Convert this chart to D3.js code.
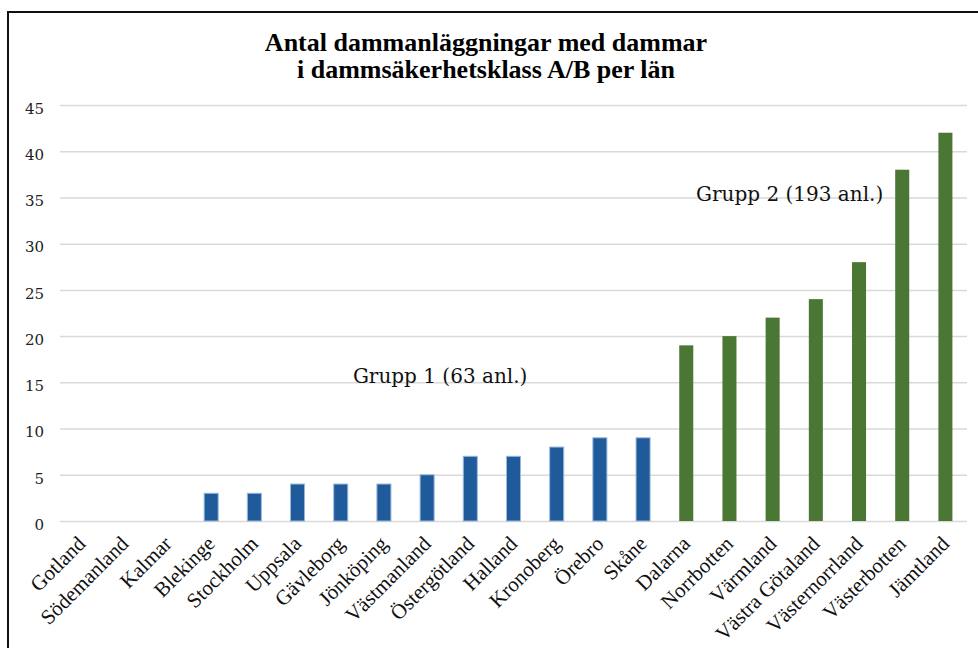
<!DOCTYPE html>
<html>
<head>
<meta charset="utf-8">
<script src="https://cdn.jsdelivr.net/npm/d3@7"></script>
<style>
  body { margin: 0; background: #fff; }
  svg { display: block; }
  .title { font-family: "Liberation Serif", serif; font-weight: bold; font-size: 26px; fill: #000; }
  .tick-label { font-family: "DejaVu Serif", serif; font-size: 15px; fill: #222; }
  .cat-label { font-family: "Liberation Serif", serif; font-size: 21px; fill: #111; }
  .group-note { font-family: "DejaVu Serif", serif; font-size: 20px; fill: #111; }
</style>
</head>
<body>
<svg id="chart" width="978" height="648"></svg>
<script>
// data
var lan = ["Gotland", "Södemanland", "Kalmar", "Blekinge", "Stockholm", "Uppsala",
  "Gävleborg", "Jönköping", "Västmanland", "Östergötland", "Halland", "Kronoberg",
  "Örebro", "Skåne", "Dalarna", "Norrbotten", "Värmland", "Västra Götaland",
  "Västernorrland", "Västerbotten", "Jämtland"];
var antal = [0, 0, 0, 3, 3, 4, 4, 4, 5, 7, 7, 8, 9, 9, 19, 20, 22, 24, 28, 38, 42];
var grupp = [1, 1, 1, 1, 1, 1, 1, 1, 1, 1, 1, 1, 1, 1, 2, 2, 2, 2, 2, 2, 2];
var yTicks = [0, 5, 10, 15, 20, 25, 30, 35, 40, 45];
var titleLines = ["Antal dammanläggningar med dammar", "i dammsäkerhetsklass A/B per län"];
var notes = [
  { text: "Grupp 1 (63 anl.)", cat: "Västmanland", value: 14.95 },
  { text: "Grupp 2 (193 anl.)", cat: "Värmland", value: 34.6 }
];

var Config = {
  Left: 60,
  Right: 967,
  Top: 105,
  Bottom: 521,
  BarPadding: 0.675,
  NoteShift: [13, 17],
  LabelShiftX: 5,
  LabelShiftY: 24,
  Blue: "#1f5a9b",
  BlueEdge: "#9bb8dc",
  Green: "#4a7834",
  Grid: "#d9d9d9"
};

var svg = d3.select("#chart");

// outer frame (runs off the right and bottom edge)
svg.append("rect")
  .attr("x", 8)
  .attr("y", 12)
  .attr("width", 1000)
  .attr("height", 700)
  .attr("fill", "none")
  .attr("stroke", "#111")
  .attr("stroke-width", 2);

var x = d3.scaleBand()
  .domain(lan)
  .range([Config.Left, Config.Right])
  .paddingInner(Config.BarPadding)
  .paddingOuter(Config.BarPadding / 2);

var y = d3.scaleLinear()
  .domain([0, 45])
  .range([Config.Bottom, Config.Top]);

// title
svg.append("text")
  .attr("class", "title")
  .attr("text-anchor", "middle")
  .selectAll("tspan")
  .data(titleLines)
  .enter()
  .append("tspan")
  .attr("x", 486)
  .attr("y", function (d, i) { return 51 + i * 27; })
  .text(function (d) { return d; });

// y axis: grid lines + labels
var yAxis = svg.append("g")
  .attr("transform", "translate(" + Config.Left + ",0)")
  .call(d3.axisLeft(y).tickValues(yTicks).tickSize(-(Config.Right - Config.Left)).tickPadding(16));

yAxis.select(".domain").remove();
yAxis.selectAll(".tick line")
  .attr("stroke", Config.Grid)
  .attr("stroke-width", 1.5);
yAxis.selectAll(".tick text")
  .attr("class", "tick-label")
  .attr("font-family", null)
  .attr("font-size", null)
  .attr("fill", null)
  .attr("dy", "0.55em");

// bars
svg.selectAll("rect.bar")
  .data(antal)
  .enter()
  .append("rect")
  .attr("class", "bar")
  .attr("x", function (d, i) { return x(lan[i]); })
  .attr("y", function (d) { return y(d); })
  .attr("width", x.bandwidth())
  .attr("height", function (d) { return y(0) - y(d); })
  .attr("fill", function (d, i) { return grupp[i] == 1 ? Config.Blue : Config.Green; })
  .attr("stroke", function (d, i) { return grupp[i] == 1 ? Config.BlueEdge : "none"; })
  .attr("stroke-width", 1);

// category labels, rotated
svg.selectAll("text.cat-label")
  .data(lan)
  .enter()
  .append("text")
  .attr("class", "cat-label")
  .attr("text-anchor", "end")
  .attr("transform", function (d) {
    var cx = x(d) + x.bandwidth() / 2 + Config.LabelShiftX;
    return "translate(" + cx + "," + (Config.Bottom + Config.LabelShiftY) + ") rotate(-45)";
  })
  .text(function (d) { return d; });

// group notes
svg.selectAll("text.group-note")
  .data(notes)
  .enter()
  .append("text")
  .attr("class", "group-note")
  .attr("text-anchor", "middle")
  .attr("x", function (d, i) { return x(d.cat) + x.bandwidth() / 2 + Config.NoteShift[i]; })
  .attr("y", function (d) { return y(d.value); })
  .text(function (d) { return d.text; });
</script>
</body>
</html>
